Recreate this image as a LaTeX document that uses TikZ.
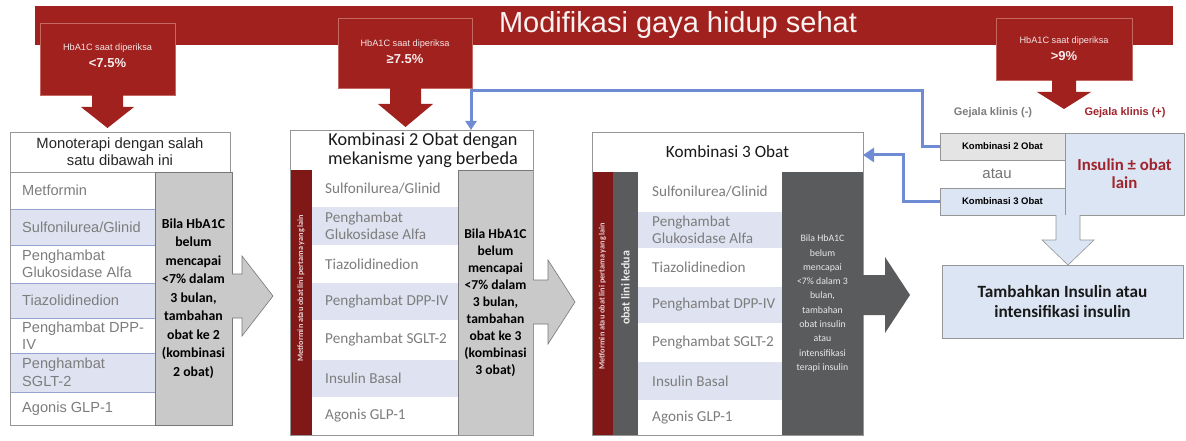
\documentclass[tikz,border=0pt]{standalone}
\usepackage{fontspec}
\setmainfont{Liberation Sans}
\newfontfamily\calib{Carlito}
\usetikzlibrary{arrows.meta}
\definecolor{bannerred}{RGB}{160,33,30}
\definecolor{edgered}{RGB}{196,104,98}
\definecolor{stripred}{RGB}{128,24,24}
\definecolor{dkgrey}{RGB}{90,91,93}
\definecolor{ltgrey}{RGB}{201,201,201}
\definecolor{edgegrey}{RGB}{150,150,150}
\definecolor{rowtint}{RGB}{223,227,241}
\definecolor{sepblue}{RGB}{150,162,208}
\definecolor{txtgrey}{RGB}{125,125,125}
\definecolor{linkblue}{RGB}{110,139,211}
\definecolor{paleblue}{RGB}{219,229,244}
\definecolor{boxgrey}{RGB}{228,228,228}
\definecolor{redtext}{RGB}{160,36,44}
\newcommand{\fsz}[2]{\fontsize{#1}{#2}\selectfont}
% one list row: name, x, y, width, height, row style, label style, label
\newcommand{\listcell}[8]{%
  \node[cellbox,#6,minimum width=#4,minimum height=#5] (#1) at (#2,#3) {};
  \node[#7] (#1t) at (#1.west) {#8};}
\begin{document}
\begin{tikzpicture}[x=1pt,y=-1pt,
  cellbox/.style={anchor=north west, inner sep=0pt, outer sep=0pt},
  callout/.style={cellbox, fill=bannerred, draw=edgered, line width=0.7pt},
  calloutsmall/.style={text=white!88!bannerred, font=\fsz{9.2}{10}, inner sep=0pt},
  calloutbig/.style={text=white!92!bannerred, font=\bfseries\fsz{13}{14}, inner sep=0pt},
  headbox/.style={cellbox, fill=white, draw=edgegrey, line width=0.6pt},
  stripbox/.style={cellbox, fill=stripred},
  plainrow/.style={fill=white},
  tintrow/.style={fill=rowtint},
  sep1/.style={draw=sepblue, line width=0.8pt},
  item1/.style={anchor=west, xshift=12pt, inner sep=0pt, align=left, text=txtgrey, font=\fsz{14.6}{17.5}},
  item2/.style={anchor=west, xshift=13pt, inner sep=0pt, align=left, text=txtgrey, font=\calib\fsz{15.2}{17}},
  item3/.style={anchor=west, xshift=14pt, inner sep=0pt, align=left, text=txtgrey, font=\calib\fsz{15.2}{17}},
  notecol/.style={cellbox, fill=ltgrey, draw=edgegrey!80!black, line width=0.6pt, align=center, font=\calib\bfseries\fsz{13.8}{18.5}},
  greyarrow/.style={fill=ltgrey, draw=edgegrey!80!black, line width=0.6pt},
  striptext/.style={rotate=90, inner sep=0pt, text=white!82!stripred, font=\calib\bfseries\fsz{8.2}{9}},
  sidebox/.style={cellbox, draw=edgegrey, line width=0.6pt},
  link/.style={draw=linkblue, line width=3pt},
]
\useasboundingbox (0,0) rectangle (1186,441);
\fill[white] (0,0) rectangle (1186,441);

% lifestyle banner
\node[cellbox, fill=bannerred, minimum width=1138, minimum height=39] (banner) at (35,6) {};
\node[text=white!94!bannerred, font=\fsz{29}{30}, inner sep=0pt] (title) at (678,25) {Modifikasi gaya hidup sehat};

% HbA1C callouts with their down arrows
\node[callout, minimum width=135, minimum height=72] (co1) at (40,23) {};
\node[calloutsmall] (co1a) at (107.5,48) {HbA1C saat diperiksa};
\node[calloutbig] (co1b) at (107.5,63) {<7.5\%};
\fill[bannerred] (92,94.5) -- (92,107) -- (81,107) -- (107.5,128) -- (134,107) -- (123,107) -- (123,94.5) -- cycle;

\node[callout, minimum width=134, minimum height=70] (co2) at (338,18) {};
\node[calloutsmall] (co2a) at (405,44) {HbA1C saat diperiksa};
\node[calloutbig] (co2b) at (405,59) {≥7.5\%};
\fill[bannerred] (390,87.5) -- (390,104) -- (378,104) -- (405.5,127) -- (433,104) -- (421,104) -- (421,87.5) -- cycle;

\node[callout, minimum width=136, minimum height=62] (co3) at (996,18) {};
\node[calloutsmall] (co3a) at (1064,41) {HbA1C saat diperiksa};
\node[calloutbig] (co3b) at (1064,56) {>9\%};
\fill[bannerred] (1052,79.5) -- (1052,92) -- (1037,92) -- (1064,109) -- (1091,92) -- (1076,92) -- (1076,79.5) -- cycle;

% column 1: monotherapy
\node[headbox, minimum width=220, minimum height=40, align=center, font=\fsz{14.8}{17}, text=black!85] (hdr1) at (10,132) {Monoterapi dengan salah\\satu dibawah ini};
\listcell{c1r1}{10}{172}{145}{37}{plainrow,sep1}{item1}{Metformin}
\listcell{c1r2}{10}{209}{145}{36}{tintrow,sep1}{item1}{Sulfonilurea/Glinid}
\listcell{c1r3}{10}{245}{145}{38}{plainrow,sep1}{item1}{Penghambat\\Glukosidase Alfa}
\listcell{c1r4}{10}{283}{145}{35}{tintrow,sep1}{item1}{Tiazolidinedion}
\listcell{c1r5}{10}{318}{145}{35}{plainrow,sep1}{item1}{Penghambat DPP-\\IV}
\listcell{c1r6}{10}{353}{145}{39}{tintrow,sep1}{item1}{Penghambat\\SGLT-2}
\listcell{c1r7}{10}{392}{145}{33}{plainrow,sep1}{item1}{Agonis GLP-1}
\draw[edgegrey, line width=0.6pt] (c1r1.north west) rectangle (c1r7.south east);
\node[notecol, minimum width=77, minimum height=253] (g1) at (155,172) {Bila HbA1C\\belum\\mencapai\\<7\% dalam\\3 bulan,\\tambahan\\obat ke 2\\(kombinasi\\2 obat)};
\filldraw[greyarrow] (232,274) -- (242,274) -- (242,256) -- (273,296) -- (242,336) -- (242,318) -- (232,318);

% column 2: two-drug combination
\node[headbox, minimum width=243, minimum height=40] (hdr2) at (290,130) {};
\node[align=center, font=\calib\fsz{18.2}{18.5}, text=black!90, inner sep=0pt] (hdr2t) at (423,150) {Kombinasi 2 Obat dengan\\mekanisme yang berbeda};
\node[stripbox, minimum width=22, minimum height=265] (s2) at (290,170) {};
\node[striptext] (s2t) at (301,288) {Metformin atau obat lini pertama yang lain};
\listcell{c2r1}{312}{170}{146}{37}{plainrow}{item2}{Sulfonilurea/Glinid}
\listcell{c2r2}{312}{207}{146}{38}{tintrow}{item2}{Penghambat\\Glukosidase Alfa}
\listcell{c2r3}{312}{245}{146}{38}{plainrow}{item2}{Tiazolidinedion}
\listcell{c2r4}{312}{283}{146}{37}{tintrow}{item2}{Penghambat DPP-IV}
\listcell{c2r5}{312}{320}{146}{40}{plainrow}{item2}{Penghambat SGLT-2}
\listcell{c2r6}{312}{360}{146}{37}{tintrow}{item2}{Insulin Basal}
\listcell{c2r7}{312}{397}{146}{38}{plainrow}{item2}{Agonis GLP-1}
\node[notecol, minimum width=75, minimum height=265, font=\calib\bfseries\fsz{13.6}{17}] (g2) at (458,170) {Bila HbA1C\\belum\\mencapai\\<7\% dalam\\3 bulan,\\tambahan\\obat ke 3\\(kombinasi\\3 obat)};
\draw[edgegrey, line width=0.6pt] (hdr2.north west) rectangle (g2.south east);
\filldraw[greyarrow] (533,280) -- (548,280) -- (548,260) -- (575,302) -- (548,344) -- (548,324) -- (533,324);

% column 3: three-drug combination
\node[headbox, minimum width=271, minimum height=40, font=\calib\fsz{17.2}{18}, text=black!90] (hdr3) at (592,132) {Kombinasi 3 Obat};
\node[stripbox, minimum width=21, minimum height=263] (s3) at (592,172) {};
\node[striptext] (s3t) at (602.5,296) {Metformin atau obat lini pertama yang lain};
\node[cellbox, fill=dkgrey, minimum width=25, minimum height=263] (s3b) at (613,172) {};
\node[rotate=90, inner sep=0pt, text=white!88!dkgrey, font=\calib\bfseries\fsz{12}{12}] (s3bt) at (625.5,288) {obat lini kedua};
\listcell{c3r1}{638}{172}{144}{40}{plainrow}{item3}{Sulfonilurea/Glinid}
\listcell{c3r2}{638}{212}{144}{36}{tintrow}{item3}{Penghambat\\Glukosidase Alfa}
\listcell{c3r3}{638}{248}{144}{39}{plainrow}{item3}{Tiazolidinedion}
\listcell{c3r4}{638}{287}{144}{36}{tintrow}{item3}{Penghambat DPP-IV}
\listcell{c3r5}{638}{323}{144}{39}{plainrow}{item3}{Penghambat SGLT-2}
\listcell{c3r6}{638}{362}{144}{38}{tintrow}{item3}{Insulin Basal}
\listcell{c3r7}{638}{400}{144}{35}{plainrow}{item3}{Agonis GLP-1}
\node[cellbox, fill=dkgrey, minimum width=81, minimum height=263, align=center, text=white!86!dkgrey, font=\calib\fsz{9.8}{14.3}] (g3) at (782,172) {Bila HbA1C\\belum\\mencapai\\<7\% dalam 3\\bulan,\\tambahan\\obat insulin\\atau\\intensifikasi\\terapi insulin};
\draw[edgegrey, line width=0.6pt] (hdr3.north west) rectangle (g3.south east);
\fill[dkgrey] (863,275) -- (885,275) -- (885,257) -- (910,295) -- (885,333) -- (885,315) -- (863,315) -- cycle;

% right panel: symptoms split
\node[font=\bfseries\fsz{11}{11}, text=txtgrey, inner sep=0pt] (gneg) at (993,113) {Gejala klinis (-)};
\node[font=\bfseries\fsz{11}{11}, text=redtext, inner sep=0pt] (gpos) at (1125,113) {Gejala klinis (+)};
\node[sidebox, fill=boxgrey, minimum width=125, minimum height=27, font=\bfseries\fsz{9.5}{10}] (k2) at (940,133) {Kombinasi 2 Obat};
\node[font=\fsz{15}{15}, text=black!55, inner sep=0pt] (atau) at (997,174) {atau};
\node[sidebox, fill=paleblue, minimum width=125, minimum height=27, font=\bfseries\fsz{9.5}{10}] (k3) at (940,188) {Kombinasi 3 Obat};
\node[sidebox, fill=paleblue, minimum width=119, minimum height=82, align=center, text=redtext, font=\calib\bfseries\fsz{16.8}{18}] (ins) at (1065,133) {Insulin ± obat\\lain};
\filldraw[fill=paleblue, draw=edgegrey, line width=0.6pt] (1056,215) -- (1056,240) -- (1042,240) -- (1068,265) -- (1094,240) -- (1080,240) -- (1080,215);
\node[sidebox, fill=paleblue, minimum width=241, minimum height=73, align=center, font=\calib\bfseries\fsz{17.2}{20}, text=black!90] (tam) at (942,265) {Tambahkan Insulin atau\\intensifikasi insulin};

% blue return links
\coordinate (j1) at (922,91);
\coordinate (j1b) at (471,91);
\draw[link, -{Triangle[width=11pt,length=9pt]}] (k2.west) -| (j1) -- (j1b) -- (j1b |- hdr2.north);
\coordinate (j2) at (903,155);
\draw[link, -{Triangle[width=14pt,length=11pt]}] (k3.west) -| (j2) -- (j2 -| hdr3.east);
\end{tikzpicture}
\end{document}
